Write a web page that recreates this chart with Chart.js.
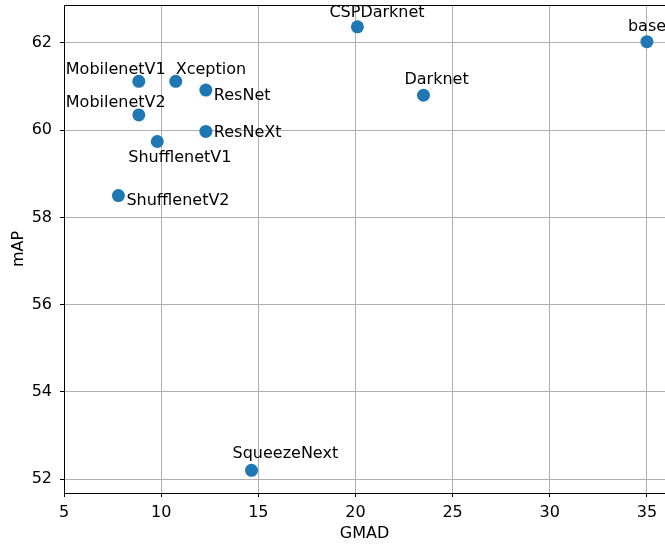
<!DOCTYPE html>
<html>
<head>
<meta charset="utf-8">
<script src="https://cdn.jsdelivr.net/npm/chart.js@4/dist/chart.umd.min.js"></script>
<style>
  html, body { margin: 0; padding: 0; background: #fff; }
</style>
</head>
<body>
<canvas id="chart" width="665" height="546"></canvas>
<script>
// models
const models = ['base', 'CSPDarknet', 'Darknet', 'MobilenetV1', 'Xception', 'ResNet',
  'MobilenetV2', 'ResNeXt', 'ShufflenetV1', 'ShufflenetV2', 'SqueezeNext'];
const gmad = [35.0, 20.1, 23.5, 8.85, 10.75, 12.3, 8.85, 12.3, 9.8, 7.8, 14.65];
const mAP = [62.03, 62.37, 60.8, 61.12, 61.12, 60.92, 60.35, 59.97, 59.74, 58.5, 52.2];

const xTicks = [5, 10, 15, 20, 25, 30, 35];
const yTicks = [52, 54, 56, 58, 60, 62];

// label placement (pixel offsets from the point, left edge / vertical middle)
const labelOffsets = {
  base: [-19, -15], CSPDarknet: [-28, -14], Darknet: [-19, -15],
  MobilenetV1: [-73, -11], Xception: [0, -11], ResNet: [8, 6],
  MobilenetV2: [-73, -12], ResNeXt: [8, 1], ShufflenetV1: [-29, 16],
  ShufflenetV2: [8, 5], SqueezeNext: [-19, -16]
};

const FONT = 'DejaVu Sans';
const FS = 16;

const pointLabels = {
  id: 'pointLabels',
  afterDatasetsDraw(chart) {
    const ctx = chart.ctx;
    const meta = chart.getDatasetMeta(0);
    ctx.save();
    ctx.font = FS + 'px "' + FONT + '"';
    ctx.fillStyle = '#000';
    ctx.textAlign = 'left';
    ctx.textBaseline = 'middle';
    meta.data.forEach((pt, i) => {
      const off = labelOffsets[models[i]] || [6, 0];
      ctx.fillText(models[i], pt.x + off[0], pt.y + off[1]);
    });
    ctx.restore();
  }
};

const frame = {
  id: 'frame',
  afterDraw(chart) {
    const a = chart.chartArea;
    const ctx = chart.ctx;
    ctx.save();
    ctx.strokeStyle = '#000';
    ctx.lineWidth = 1;
    ctx.beginPath();
    ctx.moveTo(a.left, a.top + 0.5);
    ctx.lineTo(a.right, a.top + 0.5);
    ctx.stroke();
    ctx.restore();
  }
};

new Chart(document.getElementById('chart').getContext('2d'), {
  type: 'scatter',
  data: {
    datasets: [{
      data: gmad.map((g, i) => ({ x: g, y: mAP[i] })),
      backgroundColor: '#1f77b4',
      borderWidth: 0,
      pointRadius: 6.5,
      pointHoverRadius: 6.5
    }]
  },
  options: {
    responsive: false,
    animation: false,
    layout: { autoPadding: false, padding: { top: 5, right: 0, left: 0, bottom: 0 } },
    plugins: { legend: { display: false }, tooltip: { enabled: false } },
    scales: {
      x: {
        type: 'linear',
        min: 5,
        max: 35.93,
        z: 1,
        afterBuildTicks: s => { s.ticks = xTicks.map(v => ({ value: v })); },
        afterFit: s => { s.height = 53; s.paddingLeft = 0; s.paddingRight = 0; },
        grid: { color: '#b0b0b0', lineWidth: 1, tickColor: '#000', tickLength: 4 },
        border: { color: '#000', width: 1 },
        ticks: { color: '#000', font: { family: FONT, size: FS }, padding: 6, maxRotation: 0 },
        title: { display: true, text: 'GMAD', color: '#000', font: { family: FONT, size: FS }, padding: { top: 0, bottom: 3 } }
      },
      y: {
        type: 'linear',
        min: 51.68,
        max: 62.87,
        z: 1,
        afterBuildTicks: s => { s.ticks = yTicks.map(v => ({ value: v })); },
        afterFit: s => { s.width = 64; s.paddingTop = 0; s.paddingBottom = 0; },
        grid: { color: '#b0b0b0', lineWidth: 1, tickColor: '#000', tickLength: 4 },
        border: { color: '#000', width: 1 },
        ticks: { color: '#000', font: { family: FONT, size: FS }, padding: 8 },
        title: { display: true, text: 'mAP', color: '#000', font: { family: FONT, size: FS }, padding: { top: 9, bottom: 0 } }
      }
    }
  },
  plugins: [pointLabels, frame]
});
</script>
</body>
</html>
